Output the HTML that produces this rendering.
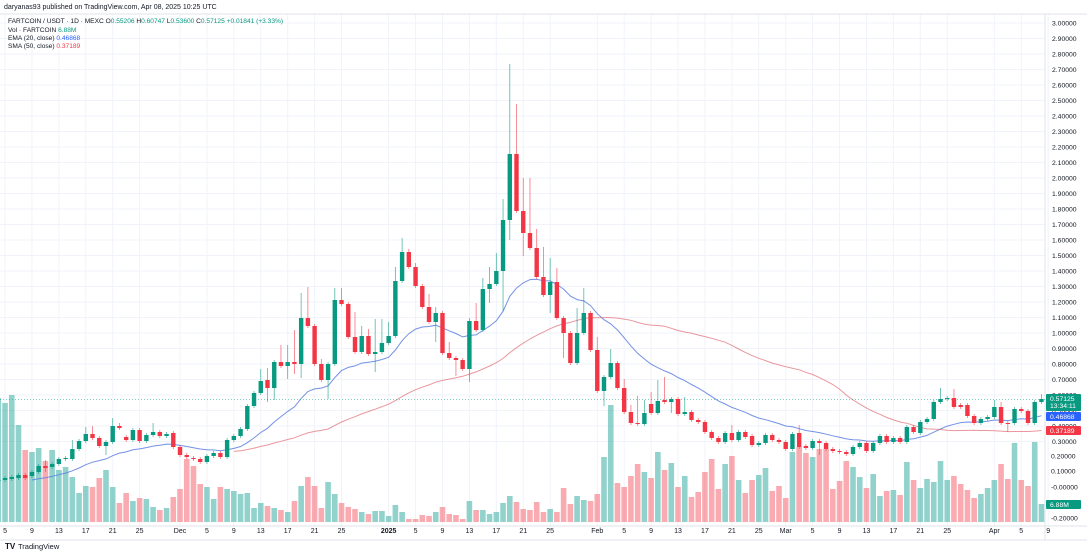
<!DOCTYPE html>
<html><head><meta charset="utf-8"><style>
html,body{margin:0;padding:0;background:#fff;}
svg{display:block;font-family:"Liberation Sans",sans-serif;}
</style></head><body>
<svg id="s" width="1087" height="555" viewBox="0 0 1087 555" xmlns="http://www.w3.org/2000/svg">
<rect width="1087" height="555" fill="#fff"/>
<g id="grid"></g><g id="vol"></g><g id="lines"></g><g id="cand"></g><g id="ax"></g>
<text x="4" y="9" font-size="7" fill="#131722">daryanas93 published on TradingView.com, Apr 08, 2025 10:25 UTC</text>
<text x="8" y="23" font-size="6.6" fill="#131722">FARTCOIN / USDT · 1D · MEXC  O<tspan fill="#089981">0.55206</tspan> H<tspan fill="#089981">0.60747</tspan> L<tspan fill="#089981">0.53600</tspan> C<tspan fill="#089981">0.57125 +0.01841 (+3.33%)</tspan></text>
<text x="8" y="32" font-size="6.6" fill="#131722">Vol · FARTCOIN <tspan fill="#089981">6.88M</tspan></text>
<text x="8" y="40" font-size="6.6" fill="#131722">EMA (20, close) <tspan fill="#2962ff">0.46868</tspan></text>
<text x="8" y="48" font-size="6.6" fill="#131722">SMA (50, close) <tspan fill="#f23645">0.37189</tspan></text>
<text x="5" y="549" font-size="8" font-weight="bold" fill="#131722">TV</text>
<text x="18" y="549" font-size="7.5" fill="#131722">TradingView</text>
</svg>
<script>
var D=[[481,480,0,0,398],[480,478,0,0,403],[479,477,0,0,395],[478,475,0,0,425],[475,478,0,0,450],[476,472,0,0,452],[472,466,0,0,448],[466,468,460,472,461],[467,464,0,0,450],[464,459,0,0,470],[459,458,0,0,467],[459,449,440,0,477],[449,441,0,0,493],[441,434,427,0,486],[434,438,426,0,487],[438,446,0,0,478],[446,442,0,455,470],[442,426,418,0,487],[426,428,423,0,503],[437,440,0,0,493],[440,430,0,0,501],[430,441,0,0,498],[441,435,0,0,499],[435,432,423,0,507],[432,436,0,0,510],[436,434,0,0,508],[433,447,0,0,497],[447,455,0,0,489],[455,457,0,0,459],[458,459,0,0,466],[459,462,0,0,484],[462,456,0,0,487],[456,453,0,0,499],[453,457,0,0,487],[457,440,0,0,489],[440,436,0,0,491],[436,429,0,0,494],[429,406,0,0,493],[406,393,0,0,508],[393,381,369,0,503],[380,388,368,402,506],[388,362,0,400,508],[362,366,345,0,510],[366,362,345,379,512],[362,364,330,374,501],[364,318,293,378,486],[318,326,287,0,477],[326,364,0,0,486],[364,380,359,0,508],[380,364,0,399,482],[364,300,288,0,494],[300,304,288,0,503],[304,337,0,0,507],[337,352,312,0,509],[352,336,326,0,512],[336,354,329,0,514],[354,352,319,372,511],[352,343,319,0,511],[343,336,322,0,516],[336,281,267,0,505],[281,252,238,0,512],[252,267,249,0,519],[267,286,263,0,519],[286,307,0,0,515],[307,322,294,0,516],[322,313,307,342,512],[313,353,0,0,507],[353,358,342,0,514],[358,360,0,376,515],[360,369,0,0,519],[369,321,318,382,501],[321,330,303,0,510],[330,289,278,0,510],[289,284,267,303,514],[284,271,253,0,512],[271,220,199,311,503],[220,154,64,240,496],[154,211,104,0,502],[211,233,178,256,509],[233,248,178,0,510],[248,277,229,0,502],[277,295,247,0,512],[295,282,258,313,509],[282,318,268,0,512],[318,333,0,358,488],[333,363,0,0,504],[363,333,308,0,496],[333,313,288,0,500],[313,350,0,0,501],[350,391,337,0,494],[391,377,0,406,457],[377,363,349,0,405],[363,388,0,0,483],[388,412,379,0,487],[412,423,405,0,476],[423,424,396,0,464],[424,413,400,0,472],[404,413,392,0,478],[413,401,380,0,452],[400,402,377,0,470],[402,399,0,413,463],[399,414,0,0,487],[414,412,397,0,476],[412,420,0,0,497],[420,422,0,0,492],[422,432,0,0,472],[432,438,0,0,459],[438,442,0,0,489],[442,433,0,0,464],[433,440,425,0,456],[440,432,0,0,480],[432,437,0,0,493],[436,445,0,0,480],[445,443,0,0,475],[443,435,0,0,468],[435,440,0,0,491],[440,442,0,0,486],[442,449,0,0,498],[449,434,0,0,452],[433,447,425,0,447],[446,448,0,0,453],[448,441,0,0,457],[441,443,0,455,449],[443,449,0,0,449],[449,451,0,0,489],[451,452,0,0,481],[452,454,0,0,461],[454,447,0,0,467],[447,443,0,0,477],[443,451,0,0,488],[451,443,0,0,474],[443,436,0,0,496],[436,442,0,0,491],[442,438,0,0,490],[438,442,0,0,495],[442,427,0,0,462],[427,432,0,0,480],[433,422,0,0,488],[422,419,0,0,479],[419,402,0,0,482],[402,399,388,0,461],[399,398,0,0,480],[398,407,389,0,476],[405,407,0,0,484],[405,416,0,0,490],[416,423,0,0,498],[423,419,0,0,494],[419,417,0,0,488],[417,407,400,0,480],[407,423,402,0,464],[423,424,0,432,479],[423,409,0,0,443],[409,411,0,0,480],[411,423,0,0,486],[423,402,0,0,442],[402,399,394,0,504]];
var NS="http://www.w3.org/2000/svg";
function el(p,t,a,txt){var e=document.createElementNS(NS,t);for(var k in a)e.setAttribute(k,a[k]);if(txt!=null)e.textContent=txt;document.getElementById(p).appendChild(e);return e;}
var X=function(i){return -1.7+6.73*i;};
// grid
for(var p=0.3;p<=3.001;p+=0.1){var y=23+(3-p)*155;el("grid","line",{x1:0,x2:1045,y1:y,y2:y,stroke:"#f0f3fa","stroke-width":1});}
var dates=[[1,"5"],[5,"9"],[9,"13"],[13,"17"],[17,"21"],[21,"25"],[27,"Dec"],[31,"5"],[35,"9"],[39,"13"],[43,"17"],[47,"21"],[51,"25"],[58,"2025"],[62,"5"],[66,"9"],[70,"13"],[74,"17"],[78,"21"],[82,"25"],[89,"Feb"],[93,"5"],[97,"9"],[101,"13"],[105,"17"],[109,"21"],[113,"25"],[117,"Mar"],[121,"5"],[125,"9"],[129,"13"],[133,"17"],[137,"21"],[141,"25"],[148,"Apr"],[152,"5"],[156,"9"]];
dates.forEach(function(d){var x=X(d[0]);el("grid","line",{x1:x,x2:x,y1:14,y2:526,stroke:"#f0f3fa","stroke-width":1});
el("ax","text",{x:x,y:533,"font-size":7,"text-anchor":"middle",fill:"#131722","font-weight":d[1]=="2025"?"bold":"normal"},d[1]);});
el("grid","line",{x1:0,x2:1087,y1:14,y2:14,stroke:"#e0e3eb"});
el("grid","line",{x1:0,x2:1087,y1:526,y2:526,stroke:"#e0e3eb"});
el("grid","line",{x1:1045,x2:1045,y1:14,y2:540,stroke:"#e0e3eb"});
el("grid","line",{x1:0,x2:1087,y1:540,y2:540,stroke:"#e0e3eb"});
// volume + candles
var G="#089981",R="#f23645";
D.forEach(function(d,i){var x=X(i),up=d[1]<=d[0];
el("vol","rect",{x:x-2.8,y:d[4],width:5.6,height:Math.max(0,522-d[4]),fill:up?"rgba(38,166,154,0.5)":"rgba(242,54,69,0.42)"});
var t=Math.min(d[0],d[1]),b=Math.max(d[0],d[1]);var h=d[2]||t-2,l=d[3]||b+2;var c=up?G:R;
el("cand","line",{x1:x,x2:x,y1:h,y2:l,stroke:c,"stroke-width":0.8,opacity:0.7});
el("cand","rect",{x:x-2.2,y:t,width:4.4,height:Math.max(1,b-t),fill:c});});
// EMA / SMA
var e=480,pe="",ps="";
D.forEach(function(d,i){if(i>=5){if(i>5)e=e+(d[1]-e)*2/21;pe+=(i==5?"M":"L")+X(i).toFixed(1)+","+e.toFixed(1);}
if(i>=35){var s=0,n=0;for(var j=Math.max(0,i-49);j<=i;j++){s+=D[j][1];n++;}ps+=(i==35?"M":"L")+X(i).toFixed(1)+","+(s/n).toFixed(1);}});
el("lines","path",{d:pe,fill:"none",stroke:"#5b7ee0","stroke-width":1,opacity:0.85});
el("lines","path",{d:ps,fill:"none",stroke:"#e06a73","stroke-width":1,opacity:0.7});
el("lines","line",{x1:0,x2:1045,y1:399.5,y2:399.5,stroke:"#089981","stroke-width":0.6,"stroke-dasharray":"1,2"});
// axis labels
for(var k=0;k<=27;k++){var p=3-k*0.1,y=23+k*15.5;el("ax","text",{x:1052,y:y+2.5,"font-size":6.8,fill:"#131722"},p.toFixed(5));}
[["0.20000",456],["0.10000",471],["-0.00000",487],["-0.10000",502],["-0.20000",518]].forEach(function(a){el("ax","text",{x:1051,y:a[1]+2.5,"font-size":6.8,fill:"#131722"},a[0]);});
function box(y,h,c,t1,t2){el("ax","rect",{x:1046,y:y,width:35,height:h,fill:c,rx:1});el("ax","text",{x:1050,y:y+7,"font-size":6.8,fill:"#fff"},t1);if(t2)el("ax","text",{x:1050,y:y+14,"font-size":6.8,fill:"#fff"},t2);}
box(394,17,G,"0.57125","13:34:11");box(412,9,"#2962ff","0.46868");box(426,9,R,"0.37189");box(500,9,G,"6.88M");
</script>
</body></html>
